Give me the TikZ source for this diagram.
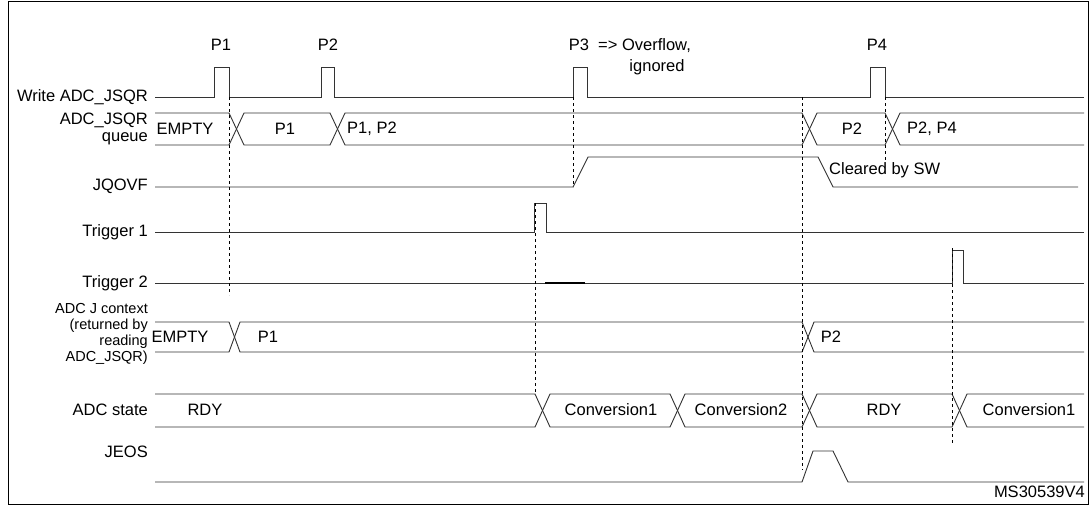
\documentclass[tikz,border=0pt]{standalone}
\usepackage{fontspec}
\setmainfont{Liberation Sans}
\begin{document}
\begin{tikzpicture}[x=1pt,y=-1pt,
  sig/.style={line width=0.9pt,black!80},
  dsh/.style={dashed,line width=0.6pt},
  lbl/.style={anchor=east,font=\fontsize{16.5}{17}\selectfont,align=right,inner sep=0pt},
  txt/.style={font=\fontsize{16.5}{17}\selectfont,inner sep=0pt}]
\useasboundingbox (0,0) rectangle (1091,506);
\draw[line width=1pt] (8,1) rectangle (1088,504);
% labels
\node[lbl] (l1) at (148,97) {Write ADC\_JSQR};
\node[lbl] (l2) at (148,129) {ADC\_JSQR\\queue};
\node[lbl] (l3) at (148,186) {JQOVF};
\node[lbl] (l4) at (148,232) {Trigger 1};
\node[lbl] (l5) at (148,283) {Trigger 2};
\node[lbl,font=\fontsize{14.5}{16}\selectfont] (l6) at (148,334) {ADC J context\\(returned by\\reading\\ADC\_JSQR)};
\node[lbl] (l7) at (148,410) {ADC state};
\node[lbl] (l8) at (148,452) {JEOS};
% Write
\draw[sig] (155,97) -- (214,97) -- (214,67) -- (229,67) -- (229,97) -- (321,97) -- (321,67) -- (334,67) -- (334,97)
 -- (573,97) -- (573,67) -- (587,67) -- (587,97) -- (870,97) -- (870,67) -- (885,67) -- (885,97) -- (1084,97);
\node[txt] (p1) at (221,45) {P1};
\node[txt] (p2) at (328,45) {P2};
\node[txt] (p3) at (579,45) {P3};
\node[txt,anchor=west] (ov) at (598,46) {=> Overflow,};
\node[txt] (ig) at (657,67) {ignored};
\node[txt] (p4) at (877,45) {P4};
% queue
\draw[sig] (155,113) -- (229,113) -- (244,145) -- (330,145) -- (345,113) -- (802,113) -- (817,145) -- (885,145) -- (900,113) -- (1084,113);
\draw[sig] (155,145) -- (229,145) -- (244,113) -- (330,113) -- (345,145) -- (802,145) -- (817,113) -- (885,113) -- (900,145) -- (1084,145);
\node[txt] (q0) at (185,129) {EMPTY};
\node[txt] (q1) at (285,129) {P1};
\node[txt,anchor=west] (q2) at (347,129) {P1, P2};
\node[txt] (q3) at (852,129) {P2};
\node[txt,anchor=west] (q4) at (907,129) {P2, P4};
% JQOVF
\draw[sig] (155,187) -- (573,187) -- (588,157) -- (818,157) -- (833,187) -- (1078,187);
\node[txt,anchor=west] (cl) at (829,170) {Cleared by SW};
% triggers
\draw[sig] (155,232) -- (534,232) -- (534,203) -- (546,203) -- (546,232) -- (1084,232);
\draw[sig] (155,283) -- (952,283) -- (952,250) -- (963,250) -- (963,283) -- (1084,283);
\draw[line width=1.6pt] (545,283) -- (585,283);
% J context
\draw[sig] (155,322) -- (229,322) -- (240,352) -- (802,352) -- (814,322) -- (1084,322);
\draw[sig] (155,352) -- (229,352) -- (240,322) -- (802,322) -- (814,352) -- (1084,352);
\node[txt] (j0) at (180,337) {EMPTY};
\node[txt] (j1) at (268,337) {P1};
\node[txt] (j2) at (831,337) {P2};
% ADC state
\draw[sig] (155,394) -- (535,394) -- (550,427) -- (670,427) -- (685,394) -- (802,394) -- (817,427) -- (952,427) -- (967,394) -- (1084,394);
\draw[sig] (155,427) -- (535,427) -- (550,394) -- (670,394) -- (685,427) -- (802,427) -- (817,394) -- (952,394) -- (967,427) -- (1084,427);
\node[txt] (s0) at (205,410) {RDY};
\node[txt] (s1) at (611,410) {Conversion1};
\node[txt] (s2) at (741,410) {Conversion2};
\node[txt] (s3) at (884,410) {RDY};
\node[txt] (s4) at (1029,410) {Conversion1};
% JEOS
\draw[sig] (155,482) -- (802,482) -- (813,451) -- (833,451) -- (848,482) -- (1084,482);
\node[txt,anchor=east] (ms) at (1085,492) {MS30539V4};
% dashed
\draw[dsh] (229,97) -- (229,295);
\draw[dsh] (573,97) -- (573,187);
\draw[dsh] (535,203) -- (535,395);
\draw[dsh] (802,97) -- (802,470);
\draw[dsh] (885,97) -- (885,160);
\draw[dsh] (952,248) -- (952,445);
\end{tikzpicture}
\end{document}
